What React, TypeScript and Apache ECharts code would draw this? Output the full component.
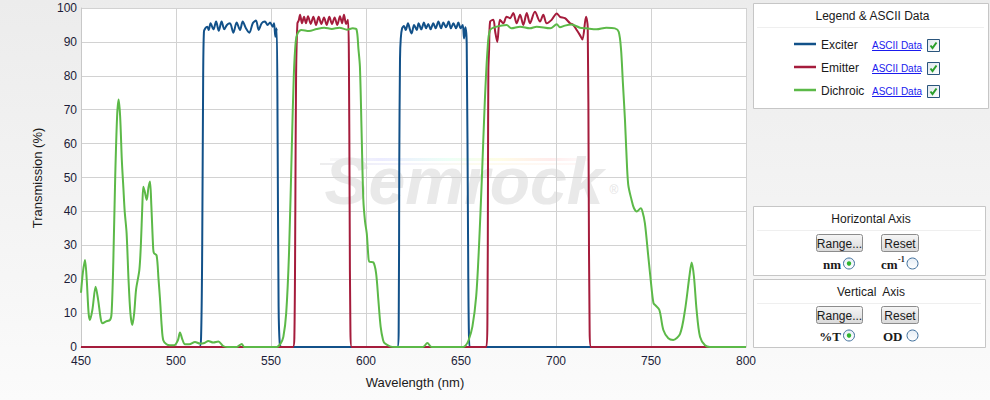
import React, { useEffect, useRef } from 'react';
import * as echarts from 'echarts';

const xMin = 450;
const xMax = 800;
const xInterval = 50;
const yMin = 0;
const yMax = 100;
const yInterval = 10;

const seriesNames = ['Exciter', 'Emitter', 'Dichroic'];
const seriesColors = ['#125189', '#a51c3c', '#5cb948'];

// [wavelength (nm), transmission (%)]
const exciterData: number[][] = [
  [450, 0], [512.3, 0], [513.2, 3], [513.8, 30], [514.3, 80], [514.7, 93], [515.4, 94], [516.5, 94.5], [517.2, 93.5],
  [518.2, 95.5], [519.7, 93.7], [521.1, 96], [522.5, 93.3], [524, 96], [525.4, 93.7], [526.8, 95], [528.4, 95.5],
  [530.2, 92.7], [531.9, 95.7], [533.7, 93.5], [535.1, 96], [536.8, 94], [538.6, 92.7], [540.4, 95.5], [542.1, 96.3],
  [543.5, 93.5], [545.1, 95.5], [546.8, 96], [548.2, 95], [549.5, 95.7], [550.9, 94.5], [551.6, 95.5], [552.3, 91.5],
  [553, 94], [553.5, 60], [554, 12], [554.6, 1], [555.5, 0],
  [616.5, 0], [617.2, 5], [617.5, 53], [617.9, 85], [618.3, 91], [619, 94], [620, 94.7], [620.9, 93.5], [622.1, 95.5],
  [623.2, 93.5], [624, 92.5], [625.3, 95], [626.7, 93.5], [627.7, 95.5], [629.1, 93.7], [630.5, 95.7], [631.6, 94],
  [632.8, 95.3], [634, 93.7], [635.4, 95.5], [636.7, 94], [638.1, 96], [639.5, 94], [640.7, 95.7], [642.1, 94.3],
  [643.5, 96], [644.7, 94], [646, 95.5], [647.4, 94], [648.6, 95.7], [649.8, 94], [650.9, 95], [651.6, 91],
  [652.3, 94.3], [653, 89.6], [653.7, 33.5], [654.2, 3], [655, 0], [800, 0],
];

const emitterData: number[][] = [
  [450, 0], [561.5, 0], [562.3, 3], [562.8, 40], [563.2, 80], [563.9, 95.5], [564.6, 96.3], [565.3, 98], [566.3, 95.5],
  [567.4, 97.4], [568.4, 95.5], [569.5, 97.6], [570.9, 95.3], [572.3, 97.4], [573.7, 95], [575.1, 97.4], [576.5, 95.3],
  [577.9, 97.2], [579.3, 95], [580.7, 97.4], [582.1, 95.3], [583.5, 97.2], [584.9, 95], [586.3, 97.6], [587.4, 95.5],
  [588.4, 98], [589.5, 95.3], [590.5, 96.5], [591, 85], [591.4, 40], [591.8, 5], [592.5, 0],
  [663.3, 0], [663.9, 8], [664.2, 50], [664.4, 81.7], [664.8, 88], [665.3, 96], [667, 96.5], [668, 93], [669.1, 90],
  [670.5, 96.5], [672.3, 95.5], [674, 97.4], [675.8, 97], [677.5, 98.5], [679.3, 95.5], [681.1, 98], [682.8, 95],
  [684.6, 98.5], [686.3, 95.5], [688.9, 98.9], [691.6, 96], [693.3, 98], [695.1, 95.5], [697.7, 96.5], [700.4, 98.4],
  [702.1, 97.4], [704.7, 97], [707.4, 95.5], [709.1, 95], [710.9, 93.5], [712.6, 92], [713.9, 90.7], [715.8, 97.4],
  [716.7, 94.5], [717.2, 50], [717.7, 5], [718.5, 0], [800, 0],
];

const dichroicData: number[][] = [
  [450, 16], [451, 22], [452.1, 25.7], [453, 20], [454, 10], [454.7, 8], [456, 11], [457.7, 17.8], [459, 14],
  [460.5, 8], [461.4, 7], [463, 7.5], [465.3, 8], [466.1, 10], [467, 25], [468, 50], [469, 68], [469.8, 73],
  [470.6, 68], [471.5, 55], [472.3, 47], [473, 40], [474, 33.6], [475, 20], [476, 10], [477, 6.5], [478, 10],
  [479, 17], [480.7, 22.7], [481.5, 30], [482.3, 42], [482.8, 47.3], [483.5, 46], [484.6, 43.4], [485.5, 47],
  [486.3, 48.8], [487, 42], [488, 29], [488.4, 27.7], [489.8, 27], [490.8, 20], [491.6, 14], [492.5, 6], [493.3, 2],
  [495, 0.8], [496.8, 0.5], [499, 0.5], [501, 2], [502.1, 4.3], [503.2, 2.5], [504.7, 0.8], [507, 0.8], [510, 1.5],
  [512.6, 1], [515, 1.2], [517, 1.8], [519.6, 1.3], [522.3, 1.6], [524.8, 0.3], [527, 0], [532, 0], [534.6, 0.9],
  [536, 0], [553, 0], [555, 1], [556.5, 3], [558, 10], [559.5, 28], [561, 60], [562, 80], [563, 90], [564, 92.5],
  [566, 93.5], [570, 93.2], [574, 93.8], [578, 94.2], [582, 93.8], [586, 94.2], [590, 93.6], [593, 94], [595, 93.7],
  [596, 88], [596.8, 82.7], [597.7, 63], [598.6, 43.4], [599.5, 37], [600.4, 33.5], [601.2, 27], [601.7, 25.2],
  [603.8, 25], [605.3, 21.8], [606.5, 13.9], [607.7, 6], [609, 2], [610, 1], [612.6, 0.2], [615, 0], [630, 0],
  [632.3, 1.2], [634.5, 0], [651, 0], [652.5, 0.5], [654, 2], [656, 6], [658, 15], [659.5, 30], [661, 50],
  [662.5, 72], [664, 88], [665.3, 93.5], [668.8, 94.5], [674, 95], [676.5, 94], [681.1, 94.5], [686.3, 94],
  [689.8, 94.5], [697, 94], [700.4, 95.2], [702.1, 94.3], [704.7, 94.8], [708.2, 95.1], [712.6, 94.2], [716, 94],
  [721.3, 93.7], [726.5, 94.2], [731, 94], [733, 93], [734.2, 88], [735.2, 78], [736.3, 67], [737, 58], [738, 48],
  [739.8, 43.3], [741, 41], [742.5, 40], [744.6, 40.9], [745.5, 40], [746.8, 36.5], [748.6, 26.6], [750.4, 16.8],
  [751.3, 13], [752.1, 12.4], [754.4, 10.9], [756.5, 5], [759.1, 2.6], [761.7, 2.1], [765.3, 3.9], [767.9, 10.9],
  [770.2, 20.8], [771.4, 24.9], [772.6, 20.8], [774, 10.9], [775.8, 3], [778.4, 0.5], [781, 0], [800, 0],
];

const FONT = '"Liberation Sans", Arial, sans-serif';
const SERIF = '"Liberation Serif", "Times New Roman", serif';

function panel(x: number, y: number, w: number, h: number, title: string) {
  return [
    { type: 'rect', shape: { x: x + 0.5, y: y + 0.5, width: w, height: h }, style: { fill: '#ffffff', stroke: '#c6c6c6', lineWidth: 1 }, z: 1 },
    { type: 'line', shape: { x1: x + 4, y1: y + 24.5, x2: x + w - 4, y2: y + 24.5 }, style: { stroke: '#efefef', lineWidth: 1 }, z: 2 },
    { type: 'text', x: x + w / 2 + 2, y: y + 13, style: { text: title, font: `12px ${FONT}`, fill: '#1a1a1a', align: 'center', verticalAlign: 'middle' }, z: 3 },
  ];
}

function button(x: number, y: number, w: number, h: number, label: string) {
  return [
    {
      type: 'rect', shape: { x: x + 0.5, y: y + 0.5, width: w, height: h, r: 2 },
      style: {
        fill: new echarts.graphic.LinearGradient(0, 0, 0, 1, [{ offset: 0, color: '#f6f6f6' }, { offset: 1, color: '#d9d9d9' }]),
        stroke: '#8c8c8c', lineWidth: 1,
      }, z: 3,
    },
    { type: 'text', x: x + w / 2 + 0.5, y: y + h / 2 + 1, style: { text: label, font: `12px ${FONT}`, fill: '#1a1a1a', align: 'center', verticalAlign: 'middle' }, z: 4 },
  ];
}

function radio(cx: number, cy: number, on: boolean) {
  const els: any[] = [
    {
      type: 'circle', shape: { cx, cy, r: 5.5 },
      style: {
        fill: new echarts.graphic.LinearGradient(0, 0, 0, 1, [{ offset: 0, color: '#e6eef6' }, { offset: 1, color: '#ffffff' }]),
        stroke: '#3f6f9c', lineWidth: 1,
      }, z: 3,
    },
  ];
  if (on) els.push({ type: 'circle', shape: { cx, cy, r: 2.2 }, style: { fill: '#2fb52f' }, z: 4 });
  return els;
}

function checkbox(x: number, y: number) {
  return [
    {
      type: 'rect', shape: { x: x + 0.5, y: y + 0.5, width: 12, height: 12 },
      style: {
        fill: new echarts.graphic.LinearGradient(0, 0, 1, 1, [{ offset: 0, color: '#dfe6ec' }, { offset: 1, color: '#ffffff' }]),
        stroke: '#2a557c', lineWidth: 1,
      }, z: 3,
    },
    { type: 'polyline', shape: { points: [[x + 3.5, y + 6.5], [x + 5.5, y + 9], [x + 9.5, y + 3.5]] }, style: { stroke: '#2a9e2a', lineWidth: 2, fill: 'none' }, z: 4 },
  ];
}

export default function App() {
  const ref = useRef<HTMLDivElement>(null);

  useEffect(() => {
    if (!ref.current) return;
    const chart = echarts.init(ref.current, null, { renderer: 'svg' });

    const legendRows = [44, 67, 90];
    const legendEls: any[] = [];
    seriesNames.forEach((name, i) => {
      const y = legendRows[i];
      legendEls.push(
        { type: 'line', shape: { x1: 794, y1: y, x2: 816, y2: y }, style: { stroke: seriesColors[i], lineWidth: 2.5 }, z: 3 },
        { type: 'text', x: 821, y: y + 1, style: { text: name, font: `12px ${FONT}`, fill: '#1a1a1a', align: 'left', verticalAlign: 'middle' }, z: 3 },
        { type: 'text', x: 872, y: y + 1, style: { text: 'ASCII Data', font: `10px ${FONT}`, fill: '#1a1aee', align: 'left', verticalAlign: 'middle' }, z: 3 },
        { type: 'line', shape: { x1: 872, y1: y + 6.5, x2: 921, y2: y + 6.5 }, style: { stroke: '#1a1aee', lineWidth: 1 }, z: 3 },
        ...checkbox(927, y - 5),
      );
    });

    const graphic: any[] = [
      // plot background
      { type: 'rect', shape: { x: 81, y: 8, width: 665, height: 339 }, style: { fill: '#ffffff' }, z: -10 },
      // watermark
      {
        type: 'rect', shape: { x: 330, y: 158, width: 260, height: 3 },
        style: {
          fill: new echarts.graphic.LinearGradient(0, 0, 1, 0, [
            { offset: 0, color: 'rgba(220,220,220,0.2)' }, { offset: 0.2, color: 'rgba(200,200,255,0.35)' },
            { offset: 0.45, color: 'rgba(200,255,230,0.35)' }, { offset: 0.65, color: 'rgba(255,250,190,0.4)' },
            { offset: 0.85, color: 'rgba(255,200,200,0.35)' }, { offset: 1, color: 'rgba(255,220,220,0.1)' },
          ]),
        }, z: -5,
      },
      {
        type: 'rect', shape: { x: 320, y: 163, width: 265, height: 2 },
        style: {
          fill: new echarts.graphic.LinearGradient(0, 0, 1, 0, [
            { offset: 0, color: 'rgba(225,225,225,0.6)' }, { offset: 0.3, color: 'rgba(215,215,250,0.3)' },
            { offset: 0.6, color: 'rgba(250,245,200,0.3)' }, { offset: 1, color: 'rgba(255,215,215,0.2)' },
          ]),
        }, z: -5,
      },
      {
        type: 'text', x: 464, y: 181,
        style: { text: 'Semrock', font: `italic bold 66px ${FONT}`, fill: '#e9e9e9', align: 'center', verticalAlign: 'middle' }, z: -5,
      },
      { type: 'text', x: 614, y: 190, style: { text: '®', font: `12px ${FONT}`, fill: '#e4e4e4', align: 'center', verticalAlign: 'middle' }, z: -5 },
      // axis titles
      {
        type: 'text', x: 37, y: 178, rotation: Math.PI / 2,
        style: { text: 'Transmission (%)', font: `13px ${FONT}`, fill: '#1a1a1a', align: 'center', verticalAlign: 'middle' },
      },
      { type: 'text', x: 415, y: 382, style: { text: 'Wavelength (nm)', font: `13px ${FONT}`, fill: '#1a1a1a', align: 'center', verticalAlign: 'middle' } },
      // legend panel
      ...panel(753, 3, 235, 105, 'Legend & ASCII Data'),
      ...legendEls,
      // horizontal axis panel
      ...panel(753, 206, 232, 69, 'Horizontal Axis'),
      ...button(816, 234, 46, 17, 'Range...'),
      ...button(881, 234, 37, 17, 'Reset'),
      { type: 'text', x: 841, y: 264, style: { text: 'nm', font: `bold 13px ${SERIF}`, fill: '#1a1a1a', align: 'right', verticalAlign: 'middle' }, z: 3 },
      ...radio(849, 263.5, true),
      { type: 'text', x: 881, y: 264, style: { text: 'cm', font: `bold 13px ${SERIF}`, fill: '#1a1a1a', align: 'left', verticalAlign: 'middle' }, z: 3 },
      { type: 'text', x: 898, y: 259, style: { text: '-1', font: `bold 8px ${SERIF}`, fill: '#1a1a1a', align: 'left', verticalAlign: 'middle' }, z: 3 },
      ...radio(912.5, 263.5, false),
      // vertical axis panel
      ...panel(753, 279, 232, 68, 'Vertical  Axis'),
      ...button(816, 306, 46, 17, 'Range...'),
      ...button(881, 306, 37, 17, 'Reset'),
      { type: 'text', x: 841, y: 336, style: { text: '%T', font: `bold 13px ${SERIF}`, fill: '#1a1a1a', align: 'right', verticalAlign: 'middle' }, z: 3 },
      ...radio(849, 335.5, true),
      { type: 'text', x: 883, y: 336, style: { text: 'OD', font: `bold 13px ${SERIF}`, fill: '#1a1a1a', align: 'left', verticalAlign: 'middle' }, z: 3 },
      ...radio(912.5, 335.5, false),
    ];

    const datasets = [exciterData, emitterData, dichroicData];

    chart.setOption({
      animation: false,
      backgroundColor: 'transparent',
      grid: { left: 81, top: 8, width: 665, height: 339, containLabel: false },
      xAxis: {
        type: 'value', min: xMin, max: xMax, interval: xInterval,
        axisLine: { show: true, lineStyle: { color: '#c8c8c8' } },
        axisTick: { show: false },
        axisLabel: { color: '#1c1c38', fontSize: 12, fontFamily: FONT, margin: 8 },
        splitLine: { show: true, lineStyle: { color: '#d2d2d2', width: 1 } },
      },
      yAxis: {
        type: 'value', min: yMin, max: yMax, interval: yInterval,
        axisLine: { show: true, lineStyle: { color: '#c8c8c8' } },
        axisTick: { show: false },
        axisLabel: { color: '#1c1c38', fontSize: 12, fontFamily: FONT, margin: 4 },
        splitLine: { show: true, lineStyle: { color: '#d2d2d2', width: 1 } },
      },
      graphic,
      series: datasets.map((d, i) => ({
        name: seriesNames[i],
        type: 'line',
        data: d,
        showSymbol: false,
        symbol: 'none',
        smooth: 0.3,
        lineStyle: { color: seriesColors[i], width: 2 },
        itemStyle: { color: seriesColors[i] },
        z: 2 + i,
      })),
    });

    return () => chart.dispose();
  }, []);

  return (
    <div
      style={{
        position: 'absolute', left: 0, top: 0, width: 990, height: 400,
        background: 'linear-gradient(180deg, #ececec 0%, #f3f3f3 50%, #fbfbfb 100%)',
      }}
    >
      <div ref={ref} style={{ width: 990, height: 400 }} />
    </div>
  );
}
